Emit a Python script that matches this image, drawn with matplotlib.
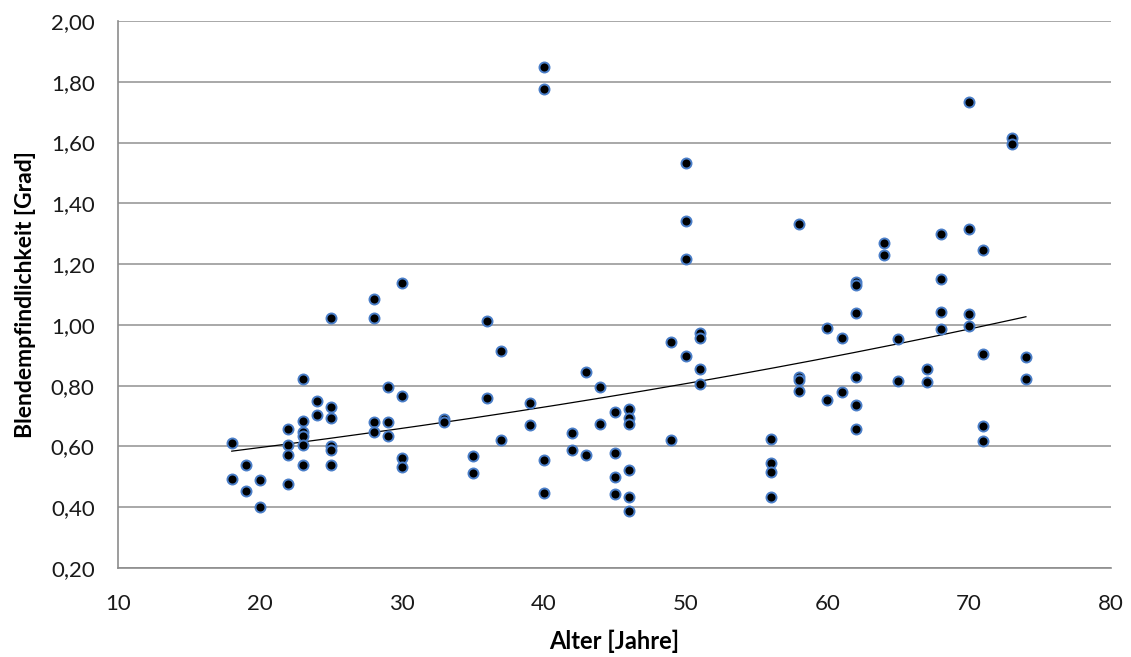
import numpy as np
import matplotlib
matplotlib.use("Agg")
import matplotlib.pyplot as plt
from matplotlib.ticker import FuncFormatter

ages = [18, 18, 19, 19, 20, 20,
        22, 22, 22, 22,
        23, 23, 23, 23, 23, 23,
        24, 24,
        25, 25, 25, 25, 25, 25,
        28, 28, 28, 28,
        29, 29, 29,
        30, 30, 30, 30,
        33, 33, 35, 35, 36, 36, 37, 37, 39, 39,
        40, 40, 40, 40,
        42, 42, 43, 43, 44, 44,
        45, 45, 45, 45,
        46, 46, 46, 46, 46, 46,
        49, 49,
        50, 50, 50, 50,
        51, 51, 51, 51,
        56, 56, 56, 56,
        58, 58, 58, 58,
        60, 60, 61, 61,
        62, 62, 62, 62, 62, 62,
        64, 64, 65, 65, 67, 67,
        68, 68, 68, 68,
        70, 70, 70, 70,
        71, 71, 71, 71,
        73, 73, 74, 74]

values = [0.611, 0.492, 0.538, 0.455, 0.488, 0.400,
          0.657, 0.605, 0.572, 0.476,
          0.821, 0.685, 0.646, 0.635, 0.605, 0.538,
          0.750, 0.705,
          1.022, 0.729, 0.695, 0.602, 0.589, 0.538,
          1.086, 1.022, 0.682, 0.646,
          0.794, 0.679, 0.635,
          1.137, 0.766, 0.561, 0.533,
          0.690, 0.680, 0.567, 0.514, 1.014, 0.759, 0.914, 0.622, 0.742, 0.669,
          1.850, 1.776, 0.556, 0.446,
          0.644, 0.589, 0.846, 0.572, 0.795, 0.674,
          0.712, 0.580, 0.501, 0.443,
          0.724, 0.693, 0.673, 0.521, 0.433, 0.389,
          0.943, 0.622,
          1.532, 1.343, 1.216, 0.896,
          0.973, 0.956, 0.854, 0.805,
          0.624, 0.547, 0.515, 0.433,
          1.331, 0.830, 0.820, 0.783,
          0.989, 0.753, 0.956, 0.779,
          1.140, 1.130, 1.040, 0.830, 0.737, 0.657,
          1.269, 1.230, 0.953, 0.816, 0.854, 0.812,
          1.298, 1.150, 1.042, 0.986,
          1.735, 1.315, 1.036, 0.995,
          1.247, 0.905, 0.666, 0.618,
          1.614, 1.594, 0.894, 0.821]

x_ticks = [10, 20, 30, 40, 50, 60, 70, 80]
y_ticks = [0.20, 0.40, 0.60, 0.80, 1.00, 1.20, 1.40, 1.60, 1.80, 2.00]

plt.rcParams['font.family'] = ["Lato", "DejaVu Sans"]

fig = plt.figure(figsize=(11.31, 6.57), dpi=100)
ax = fig.add_axes([118.3 / 1131, 1 - 568 / 657, (1111 - 118.3) / 1131, (568 - 21) / 657])

x = np.array(ages, dtype=float)
y = np.array(values)

# exponential trendline (least squares on ln y)
b, lna = np.polyfit(x, np.log(y), 1)
xt = np.linspace(x.min(), x.max(), 200)
ax.plot(xt, np.exp(lna) * np.exp(b * xt), color="black", lw=0.9, zorder=3)

ax.scatter(x, y, s=52, c="black", edgecolors="#4A7EC8", linewidths=1.4, zorder=4)

ax.set_xlim(10, 80)
ax.set_ylim(0.20, 2.00)
ax.set_xticks(x_ticks)
ax.set_yticks(y_ticks)
ax.yaxis.set_major_formatter(FuncFormatter(lambda v, p: f"{v:.2f}".replace(".", ",")))
ax.grid(axis="y", color="#9a9a9a", lw=1.2)
ax.set_axisbelow(True)
for s in ["top", "right"]:
    ax.spines[s].set_visible(False)
for s in ["left", "bottom"]:
    ax.spines[s].set_color("#8c8c8c")
    ax.spines[s].set_linewidth(1.2)
ax.tick_params(length=0, labelsize=16, labelcolor="#1a1a1a")
ax.tick_params(axis="y", pad=17)
ax.tick_params(axis="x", pad=19)

ax.set_xlabel("Alter [Jahre]", fontsize=17, fontweight="bold", va="center")
ax.set_ylabel("Blendempfindlichkeit [Grad]", fontsize=16.5, fontweight="bold", va="center")
ax.xaxis.set_label_coords(0.5, (568 - 641) / 547)
ax.yaxis.set_label_coords((26 - 118.3) / 992.7, 0.5)

fig.savefig("out.png", dpi=100)
